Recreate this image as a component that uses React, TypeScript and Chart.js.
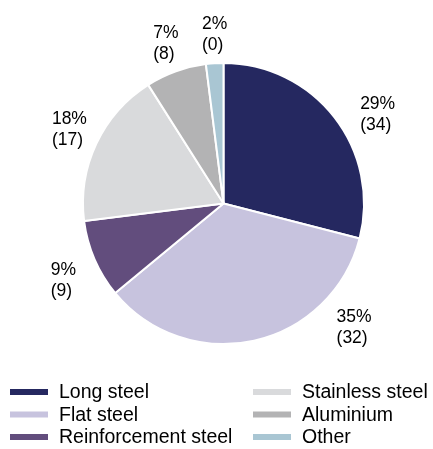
import React, { useEffect, useRef } from "react";
import { Chart, registerables } from "chart.js";

Chart.register(...registerables);

const categories = ["Long steel", "Flat steel", "Reinforcement steel", "Stainless steel", "Aluminium", "Other"];
const shares = [29, 35, 9, 18, 7, 2];
const previous = [34, 32, 9, 17, 8, 0];
const colors = ["#252860", "#c7c3de", "#624d7d", "#d9dadc", "#b3b3b4", "#a9c6d3"];

// label placement relative to each slice (angle shift in degrees, extra distance beyond outer radius)
const labelAngleShift = [7.8, -33.9, -2.2, 0.5, 0, 0.6];
const labelExtra = [37.5, 39.5, 37, 30.5, 29.5, 28.5];

const FONT = "'Liberation Sans', Arial, sans-serif";

const labelPlugin = {
  id: "sliceLabels",
  afterDatasetsDraw(chart: any) {
    const ctx = chart.ctx;
    const meta = chart.getDatasetMeta(0);
    ctx.save();
    ctx.font = `17.5px ${FONT}`;
    ctx.fillStyle = "#000";
    ctx.textBaseline = "middle";
    ctx.textAlign = "left";
    meta.data.forEach((arc: any, i: number) => {
      const p = arc.getProps(["x", "y", "startAngle", "endAngle", "outerRadius"], true);
      const mid = (p.startAngle + p.endAngle) / 2 + (labelAngleShift[i] * Math.PI) / 180;
      const d = p.outerRadius + labelExtra[i];
      const cx = p.x + Math.cos(mid) * d;
      const cy = p.y + Math.sin(mid) * d;
      const l1 = `${shares[i]}%`;
      const l2 = `(${previous[i]})`;
      const w = Math.max(ctx.measureText(l1).width, ctx.measureText(l2).width);
      const left = cx - w / 2;
      ctx.fillText(l1, left, cy - 10.5);
      ctx.fillText(l2, left, cy + 10.5);
    });
    ctx.restore();
  },
};

const legendPlugin = {
  id: "gridLegend",
  afterDraw(chart: any) {
    const ctx = chart.ctx;
    const labels = chart.data.labels as string[];
    const bg = chart.data.datasets[0].backgroundColor as string[];
    const colBox = [10, 253];
    const colText = [59, 302];
    ctx.save();
    ctx.font = `19.5px ${FONT}`;
    ctx.textBaseline = "alphabetic";
    ctx.textAlign = "left";
    labels.forEach((lab, i) => {
      const col = Math.floor(i / 3);
      const row = i % 3;
      const base = 398 + row * 22.5;
      ctx.fillStyle = bg[i];
      ctx.fillRect(colBox[col], base - 9, 38, 6);
      ctx.fillStyle = "#000";
      ctx.fillText(lab, colText[col], base);
    });
    ctx.restore();
  },
};

export default function App() {
  const ref = useRef<HTMLCanvasElement>(null);
  useEffect(() => {
    if (!ref.current) return;
    const chart = new Chart(ref.current, {
      type: "pie",
      data: {
        labels: categories,
        datasets: [
          {
            data: shares,
            backgroundColor: colors,
            borderColor: "#ffffff",
            borderWidth: 2,
          },
        ],
      },
      options: {
        animation: false,
        responsive: false,
        devicePixelRatio: 1,
        layout: { padding: { left: 14, right: 0, top: 62, bottom: 104 } },
        plugins: {
          legend: { display: false },
          tooltip: { enabled: false },
        },
      },
      plugins: [labelPlugin, legendPlugin],
    });
    return () => chart.destroy();
  }, []);
  return (
    <div style={{ position: "absolute", left: 0, top: 0, width: 433, height: 449, background: "#fff" }}>
      <canvas ref={ref} width={433} height={449} style={{ width: 433, height: 449, display: "block" }} />
    </div>
  );
}
